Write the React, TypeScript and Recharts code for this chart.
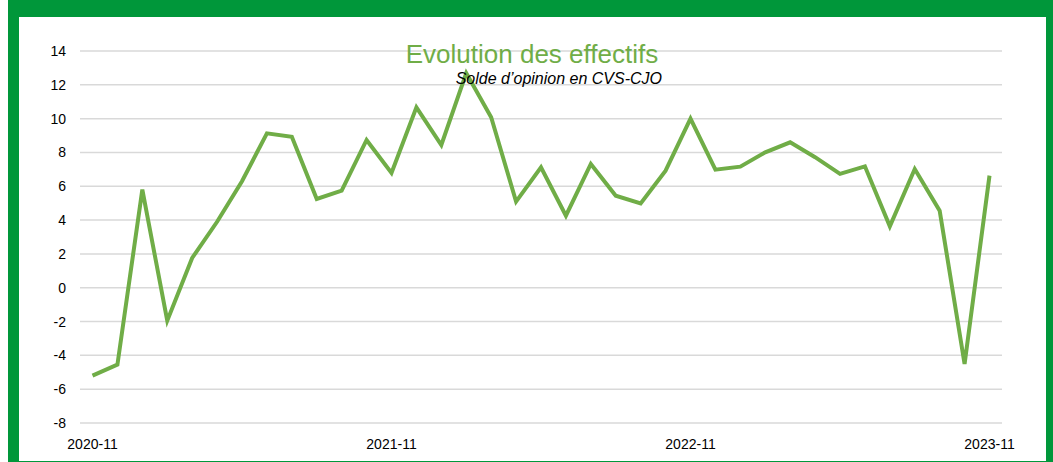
import { ComposedChart, Line, XAxis, YAxis, CartesianGrid } from "recharts"

const months = [
  "2020-11", "2020-12", "2021-01", "2021-02", "2021-03", "2021-04", "2021-05", "2021-06", "2021-07", "2021-08",
  "2021-09", "2021-10", "2021-11", "2021-12", "2022-01", "2022-02", "2022-03", "2022-04", "2022-05", "2022-06",
  "2022-07", "2022-08", "2022-09", "2022-10", "2022-11", "2022-12", "2023-01", "2023-02", "2023-03", "2023-04",
  "2023-05", "2023-06", "2023-07", "2023-08", "2023-09", "2023-10", "2023-11",
]

const solde = [
  -5.2, -4.55, 5.8, -1.95, 1.76, 3.9, 6.3, 9.13, 8.93, 5.25,
  5.74, 8.74, 6.79, 10.67, 8.44, 12.7, 10.08, 5.09, 7.12, 4.26,
  7.32, 5.44, 4.99, 6.92, 10.0, 6.98, 7.16, 8.01, 8.6, 7.72,
  6.73, 7.18, 3.63, 7.02, 4.56, -4.51, 6.63,
]

const yTicks = [-8, -6, -4, -2, 0, 2, 4, 6, 8, 10, 12, 14]

const title = "Evolution des effectifs"
const subtitle = "Solde d\u2019opinion en CVS-CJO"

const data = months.map((m, i) => ({ m, v: solde[i] }))

const font = "'Liberation Sans', Arial, sans-serif"

export default function App() {
  return (
    <div style={{ position: "absolute", left: 0, top: 0, width: 1053, height: 462, background: "#fff" }}>
      <div style={{ position: "absolute", left: 8, top: 0, width: 1045, height: 462, background: "#00973A" }} />
      <div style={{ position: "absolute", left: 19, top: 17, width: 1027, height: 444, background: "#fff" }} />
      <div style={{ position: "absolute", left: 0, top: 0 }}>
        <ComposedChart width={1053} height={462} data={data} margin={{ top: 51, right: 51, bottom: 9, left: 20 }}>
          <CartesianGrid vertical={false} stroke="#D9D9D9" strokeWidth={1.5} />
          <XAxis
            dataKey="m"
            interval={11}
            padding={{ left: 12.5, right: 12.5 }}
            axisLine={false}
            tickLine={false}
            tickSize={0}
            tickMargin={16}
            height={30}
            tick={{ fill: "#000", fontSize: 14, fontFamily: font }}
          />
          <YAxis
            domain={[-8, 14]}
            ticks={yTicks}
            width={60}
            axisLine={false}
            tickLine={false}
            tickSize={0}
            tickMargin={14}
            tick={{ fill: "#000", fontSize: 14, fontFamily: font }}
          />
          <Line
            dataKey="v"
            type="linear"
            stroke="#70AD47"
            strokeWidth={4}
            dot={false}
            isAnimationActive={false}
          />
        </ComposedChart>
      </div>
      <svg width={1053} height={462} style={{ position: "absolute", left: 0, top: 0, pointerEvents: "none" }}>
        <text x={532} y={63} textAnchor="middle" fontFamily={font} fontSize={26} fill="#70AD47">
          {title}
        </text>
        <text x={662} y={84} textAnchor="end" fontFamily={font} fontSize={16} fontStyle="italic" fill="#000">
          {subtitle}
        </text>
      </svg>
    </div>
  )
}
